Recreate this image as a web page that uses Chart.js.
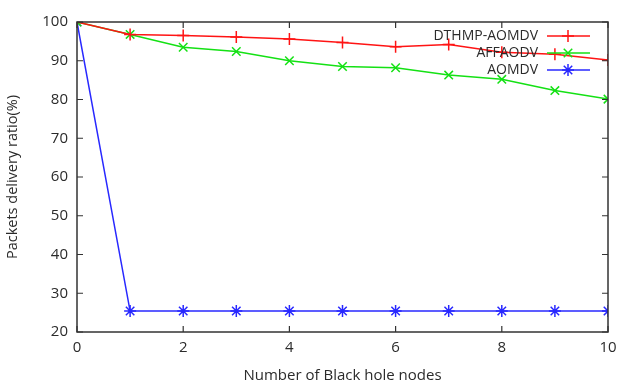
<!DOCTYPE html>
<html>
<head>
<meta charset="utf-8">
<script src="https://cdn.jsdelivr.net/npm/chart.js@4"></script>
<style>
html,body{margin:0;padding:0;background:#fff;}
#wrap{width:628px;height:385px;position:relative;}
</style>
</head>
<body>
<div id="wrap"><canvas id="c" width="628" height="385"></canvas></div>
<script>
const nodes = [0,1,2,3,4,5,6,7,8,9,10];
const dthmp = [100,96.8,96.5,96.1,95.6,94.7,93.6,94.2,92.2,91.7,90.2];
const affaodv = [100,96.8,93.5,92.4,90.0,88.5,88.2,86.3,85.2,82.3,80.1];
const aomdv = [100,25.4,25.4,25.4,25.4,25.4,25.4,25.4,25.4,25.4,25.4];
const xTicks = [0,2,4,6,8,10];
const yTicks = [20,30,40,50,60,70,80,90,100];
const seriesNames = ['DTHMP-AOMDV','AFFAODV','AOMDV'];

const FONT = 'Open Sans';
const TXT = '#2b2b2b';

function pts(arr){ return nodes.map((x,i)=>({x:x,y:arr[i]})); }

const styles = [
  {color:'rgb(255,20,20)', point:'cross'},
  {color:'rgb(20,225,20)', point:'crossRot'},
  {color:'rgb(40,40,255)', point:'star'}
];
const dataArrs = [dthmp, affaodv, aomdv];

const datasets = seriesNames.map((n,i)=>({
  label:n,
  data:pts(dataArrs[i]),
  borderColor:styles[i].color,
  backgroundColor:styles[i].color,
  borderWidth:1.5,
  pointStyle:styles[i].point,
  pointRadius:6,
  pointBorderWidth:1.5,
  pointHoverRadius:6,
  tension:0
}));

const frame = {
  id:'frame',
  afterDatasetsDraw(chart){
    const ctx = chart.ctx, a = chart.chartArea;
    const xs = chart.scales.x, ys = chart.scales.y;
    ctx.save();
    ctx.strokeStyle = '#333';
    ctx.lineWidth = 1.5;
    ctx.strokeRect(a.left, a.top, a.right-a.left, a.bottom-a.top);
    ctx.lineWidth = 1.2;
    const L = 6;
    ctx.beginPath();
    xTicks.forEach(v=>{
      const px = xs.getPixelForValue(v);
      ctx.moveTo(px,a.bottom); ctx.lineTo(px,a.bottom-L);
      ctx.moveTo(px,a.top); ctx.lineTo(px,a.top+L);
    });
    yTicks.forEach(v=>{
      const py = ys.getPixelForValue(v);
      ctx.moveTo(a.left,py); ctx.lineTo(a.left+L,py);
      ctx.moveTo(a.right,py); ctx.lineTo(a.right-L,py);
    });
    ctx.stroke();
    // legend
    ctx.font = '14px "'+FONT+'"';
    ctx.textAlign = 'right';
    ctx.textBaseline = 'middle';
    const ly = [36,53,70];
    seriesNames.forEach((n,i)=>{
      const y = ly[i];
      ctx.fillStyle = TXT;
      ctx.fillText(n, 538, y);
      ctx.strokeStyle = styles[i].color;
      ctx.lineWidth = 1.5;
      ctx.beginPath(); ctx.moveTo(547,y); ctx.lineTo(590,y); ctx.stroke();
      Chart.helpers.drawPoint(ctx,{pointStyle:styles[i].point, radius:6, rotation:0, borderWidth:1.5}, 568, y);
    });
    ctx.restore();
  }
};

new Chart(document.getElementById('c'),{
  type:'line',
  data:{datasets:datasets},
  options:{
    responsive:false,
    animation:false,
    layout:{padding:{left:0,right:20,top:22,bottom:0}},
    plugins:{legend:{display:false},tooltip:{enabled:false}},
    scales:{
      x:{
        type:'linear',min:0,max:10,
        afterBuildTicks(s){ s.ticks = xTicks.map(v=>({value:v})); },
        afterFit(s){ s.height = 53; },
        grid:{display:false,drawTicks:false},
        border:{display:false},
        ticks:{color:TXT,font:{family:FONT,size:15},padding:7,maxRotation:0},
        title:{display:true,text:'Number of Black hole nodes',color:TXT,font:{family:FONT,size:15},padding:{top:1,bottom:0}}
      },
      y:{
        type:'linear',min:20,max:100,
        afterBuildTicks(s){ s.ticks = yTicks.map(v=>({value:v})); },
        afterFit(s){ s.width = 77; },
        grid:{display:false,drawTicks:false},
        border:{display:false},
        ticks:{color:TXT,font:{family:FONT,size:15},padding:9},
        title:{display:true,text:'Packets delivery ratio(%)',color:TXT,font:{family:FONT,size:14.5},padding:{top:4,bottom:0}}
      }
    }
  },
  plugins:[frame]
});
</script>
</body>
</html>
